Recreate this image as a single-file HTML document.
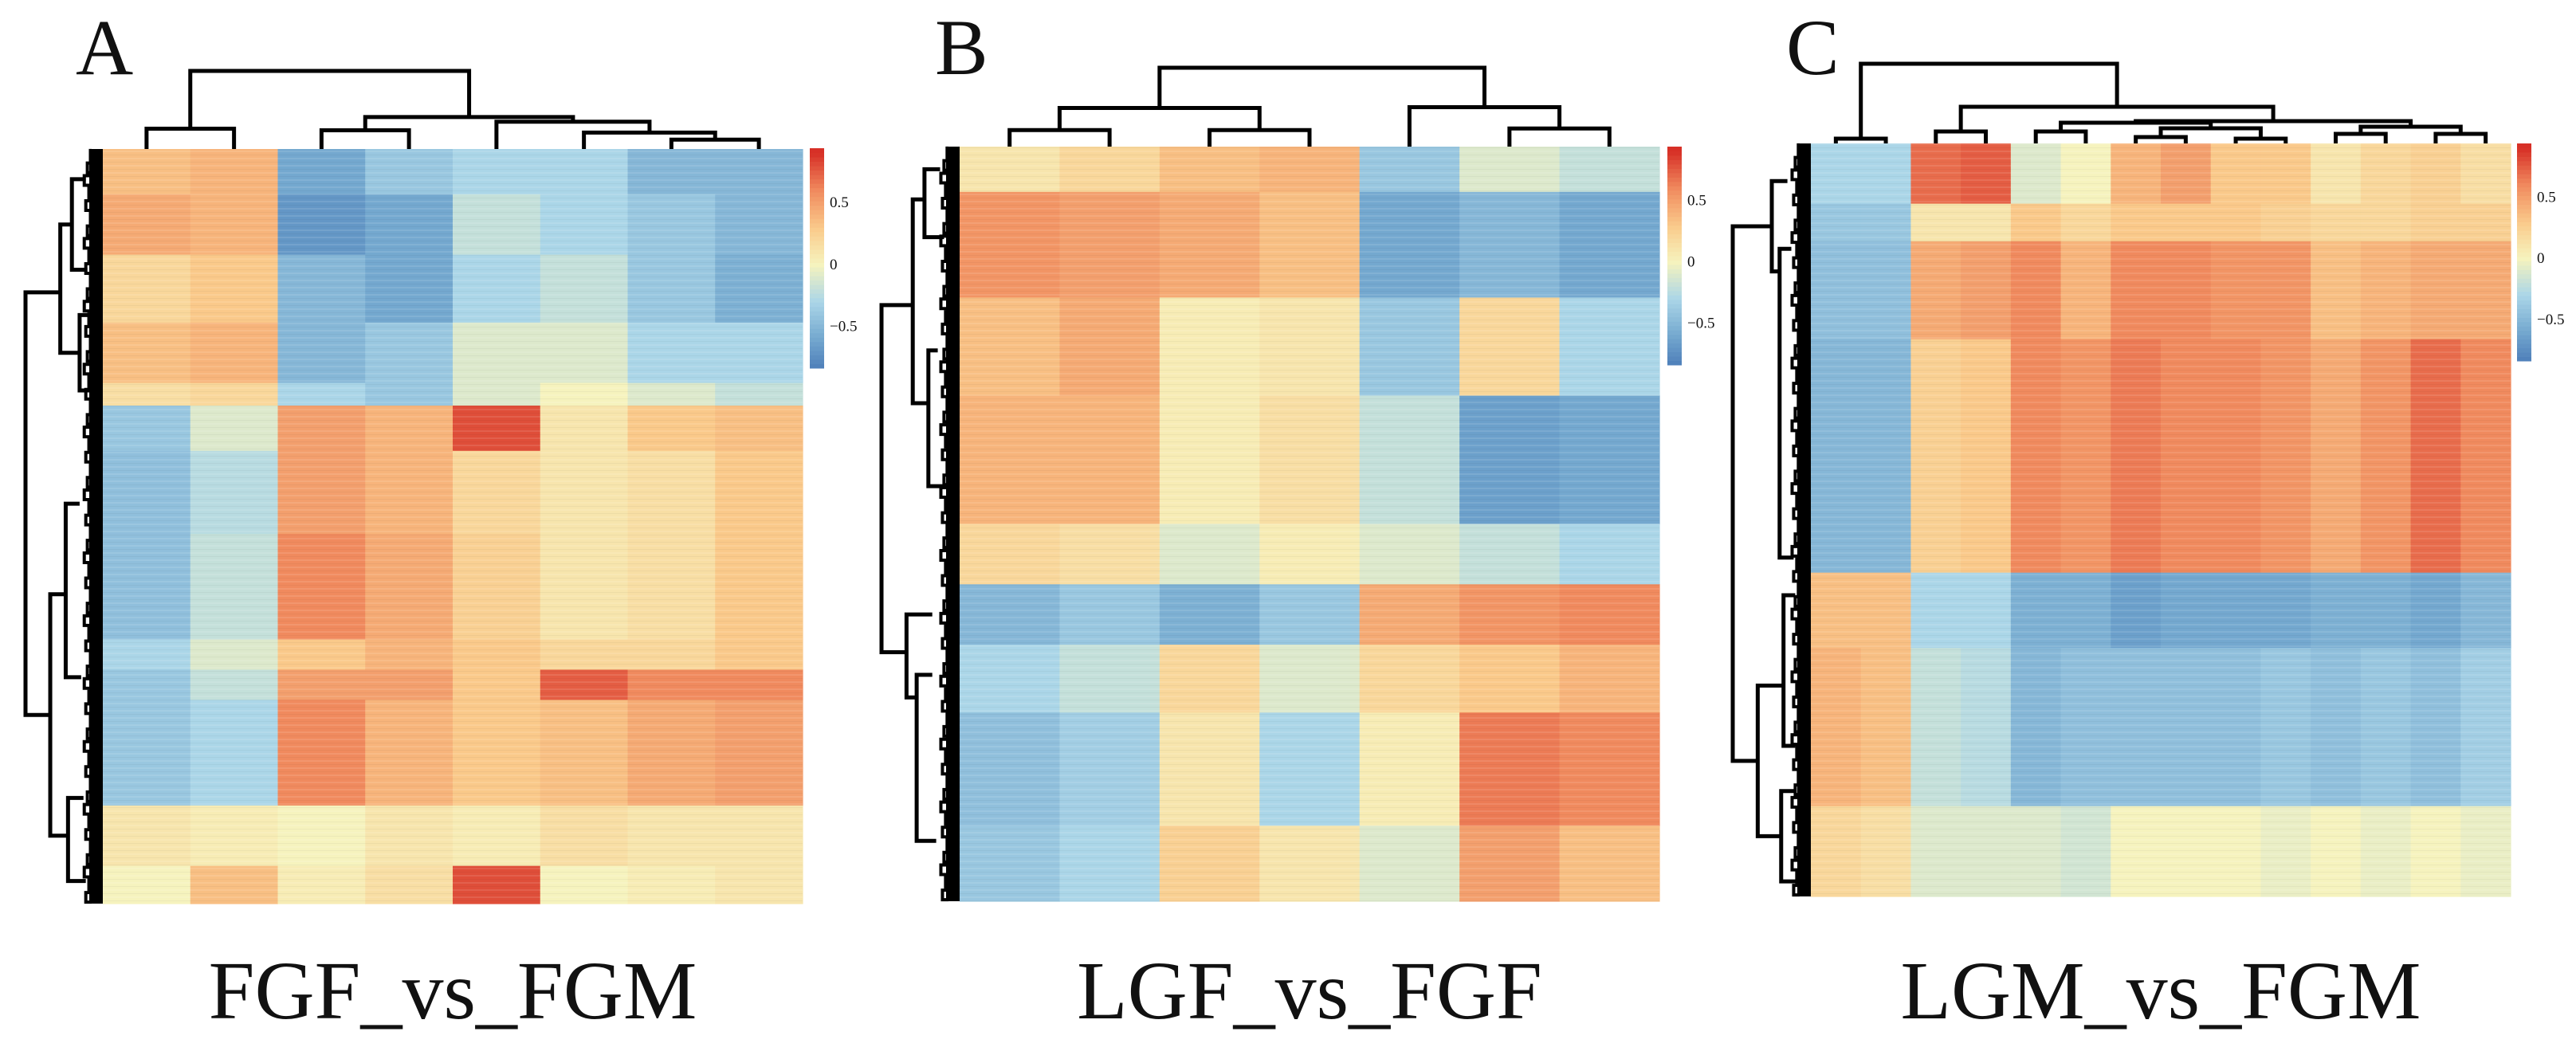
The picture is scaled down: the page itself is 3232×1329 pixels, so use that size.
<!DOCTYPE html>
<html><head><meta charset="utf-8">
<style>
html,body{margin:0;padding:0;background:#fff;}
svg{display:block;}
text{font-family:"Liberation Serif",serif;fill:#111;}
</style></head>
<body>
<svg id="fig" width="3232" height="1329" viewBox="0 0 3232 1329" xmlns="http://www.w3.org/2000/svg">
<defs>
<pattern id="stripes" width="10" height="9" patternUnits="userSpaceOnUse">
<rect x="0" y="0" width="10" height="2" fill="#fff" opacity="0.10"/>
<rect x="0" y="5" width="10" height="1" fill="#000" opacity="0.04"/>
</pattern>
</defs>
</svg>
<script>
// ---------- DATA ----------
const rowBreaksA = [0,.06,.14,.23,.31,.34,.40,.51,.65,.69,.73,.87,.95,1];
const valuesA = [
 [.35,.40,-.60,-.40,-.30,-.30,-.50,-.50],
 [.45,.40,-.70,-.60,-.20,-.30,-.40,-.50],
 [.20,.30,-.50,-.60,-.30,-.20,-.40,-.55],
 [.35,.40,-.50,-.40,-.10,-.10,-.30,-.30],
 [.15,.20,-.30,-.40,-.10,0,-.10,-.20],
 [-.40,-.10,.50,.40,.80,.10,.30,.35],
 [-.45,-.25,.50,.40,.20,.10,.15,.30],
 [-.45,-.20,.60,.45,.25,.10,.15,.30],
 [-.30,-.10,.30,.40,.30,.20,.20,.30],
 [-.40,-.20,.50,.50,.30,.75,.60,.60],
 [-.40,-.30,.60,.40,.30,.35,.45,.50],
 [.10,.05,0,.10,.05,.15,.10,.10],
 [0,.35,.05,.15,.80,0,.05,.10]
];
const rowBreaksB = [0,.06,.20,.33,.50,.58,.66,.75,.90,1];
const valuesB = [
 [.10,.20,.35,.40,-.40,-.10,-.20],
 [.55,.50,.45,.35,-.60,-.50,-.60],
 [.35,.45,.05,.10,-.40,.20,-.30],
 [.40,.40,.05,.15,-.20,-.65,-.60],
 [.20,.15,-.10,.05,-.10,-.20,-.30],
 [-.50,-.40,-.55,-.40,.45,.55,.60],
 [-.30,-.20,.20,-.10,.20,.30,.40],
 [-.45,-.35,.10,-.30,.05,.65,.60],
 [-.40,-.30,.25,.10,-.10,.50,.35]
];
const rowBreaksC = [0,.08,.13,.26,.57,.67,.88,1];
const valuesC = [
 [-.30,-.30,.70,.75,-.10,0,.40,.50,.30,.30,.10,.20,.25,.15],
 [-.40,-.40,.10,.10,.30,.20,.30,.30,.30,.25,.20,.20,.25,.25],
 [-.45,-.45,.45,.50,.60,.40,.60,.60,.55,.55,.35,.40,.45,.45],
 [-.50,-.50,.25,.30,.60,.55,.65,.60,.60,.55,.45,.55,.70,.60],
 [.35,.35,-.30,-.30,-.55,-.55,-.65,-.60,-.60,-.60,-.55,-.55,-.60,-.50],
 [.40,.35,-.20,-.25,-.50,-.45,-.45,-.45,-.45,-.40,-.45,-.40,-.45,-.35],
 [.20,.15,-.10,-.10,-.10,-.15,0,0,0,-.05,0,-.05,0,-.05]
];
const colMergesA = [[0,1,.26],[2,3,.24],[6,7,.12],[5,10,.21],[4,11,.35],[9,12,.41],[8,13,1]];
const colMergesB = [[0,1,.21],[2,3,.21],[7,8,.49],[5,6,.23],[4,10,.50],[9,11,1]];
const colMergesC = [[0,1,.06],[2,3,.15],[4,5,.15],[6,7,.08],[8,9,.06],[10,11,.12],[12,13,.12],
 [17,18,.19],[16,21,.26],[19,20,.21],[22,23,.28],[15,24,.46],[14,25,1]];
const rowBracketsA = [[1,.19,.75,.55,.68],[.55,.10,.27,.40,.30],[.68,.59,.91,.48,.45],[.48,.47,.70,.30,.28],[.45,.86,.97,.25,.22],[.40,.04,.16,.22,.20],[.30,.22,.32,.18,.15]];
const rowBracketsB = [[1,.21,.67,.60,.68],[.60,.07,.34,.45,.40],[.68,.62,.73,.35,.55],[.55,.70,.92,.35,.30],[.45,.03,.12,.25,.20],[.40,.27,.45,.28,.20]];
const rowBracketsC = [[1,.11,.82,.50,.68],[.50,.05,.17,.30,.40],[.40,.14,.55,.25,.22],[.68,.72,.92,.35,.38],[.38,.86,.98,.20,.18],[.35,.60,.80,.20,.20]];
const cbTicks = [0.5, 0, -0.5];
const cbTickLabels = ["0.5","0","\u22120.5"];
const cbRange = [-0.84, 0.94];
const panelLetters = ["A","B","C"];
const panelTitles = ["FGF_vs_FGM","LGF_vs_FGF","LGM_vs_FGM"];

// ---------- LAYOUT ----------
const panels = [
 {x0:129,x1:1007,y0:187,y1:1134,cb:[1016,1034,186,462],rootX:32,topY:89,letterX:95,rb:rowBreaksA,vals:valuesA,cm:colMergesA,rbk:rowBracketsA},
 {x0:1204,x1:2082,y0:184,y1:1131,cb:[2092,2110,184,458],rootX:1106,topY:85,letterX:1173,rb:rowBreaksB,vals:valuesB,cm:colMergesB,rbk:rowBracketsB},
 {x0:2272,x1:3150,y0:180,y1:1125,cb:[3158,3176,180,453],rootX:2174,topY:80,letterX:2241,rb:rowBreaksC,vals:valuesC,cm:colMergesC,rbk:rowBracketsC}
];
const NS="http://www.w3.org/2000/svg";
const svg=document.getElementById('fig');
function mk(tag,attrs,parent){const e=document.createElementNS(NS,tag);for(const k in attrs)e.setAttribute(k,attrs[k]);(parent||svg).appendChild(e);return e;}

const stops=[[-0.9,[69,117,180]],[-0.6,[116,168,207]],[-0.3,[171,214,232]],[0,[246,243,190]],[0.3,[250,201,138]],[0.6,[240,138,94]],[0.9,[215,48,39]]];
function color(v){
 if(v<=stops[0][0])return `rgb(${stops[0][1]})`;
 for(let i=1;i<stops.length;i++){if(v<=stops[i][0]){const a=stops[i-1],b=stops[i];const t=(v-a[0])/(b[0]-a[0]);
  const c=a[1].map((x,j)=>Math.round(x+(b[1][j]-x)*t));return `rgb(${c})`;}}
 return `rgb(${stops[stops.length-1][1]})`;
}

panels.forEach((p,pi)=>{
 const g=mk('g',{});
 
 
 const nCols=p.vals[0].length, cw=(p.x1-p.x0)/nCols, H=p.y1-p.y0;
 const xScale=c=>p.x0+c*cw;
 const yScale=f=>p.y0+f*H;
 const hm=mk('g',{},g);
 
 
 p.vals.forEach((row,ri)=>{
  row.forEach((v,ci)=>{
   const r=mk('rect',{x:xScale(ci),y:yScale(p.rb[ri]),width:cw+0.6,height:yScale(p.rb[ri+1])-yScale(p.rb[ri])+0.6,fill:color(v)},hm);
   
   
  });
 });
 mk('rect',{x:p.x0,y:p.y0,width:p.x1-p.x0,height:H,fill:'url(#stripes)'},hm);
 const dg=mk('g',{stroke:'#000','stroke-width':5,fill:'none'},g);
 
 
 const pos=[],ht=[];
 for(let i=0;i<nCols;i++){pos.push(xScale(i)+cw/2);ht.push(0);}
 const span=p.y0-p.topY;
 const hy=h=>p.y0-h*span;
 p.cm.forEach(m=>{
  const [a,b,h]=m;
  const xa=pos[a],xb=pos[b],y=hy(h);
  mk('path',{d:`M${xa},${hy(ht[a])}V${y}H${xb}V${hy(ht[b])}`},dg);
  pos.push((xa+xb)/2);ht.push(h);
 });
 const rg=mk('g',{stroke:'#000','stroke-width':5,fill:'none'},g);
 
 
 const W=p.x0-p.rootX;
 const dx=d=>p.x0-d*W;
 p.rbk.forEach(b=>{
  const [d,t,bt,dt,db]=b;
  mk('path',{d:`M${dx(dt)},${yScale(t)}H${dx(d)}V${yScale(bt)}H${dx(db)}`},rg);
 });
 mk('rect',{x:p.x0-17,y:p.y0,width:17,height:H,fill:'#000',stroke:'none'},rg);
 for(let i=0;i<60;i++){
  const y=p.y0+ (i+0.5)*H/60;
  const d=0.16+0.08*((i*7)%5)/4;
  mk('path',{d:`M${p.x0-14},${y-6}H${dx(d)}V${y+6}H${p.x0-14}`,'stroke-width':4},rg);
 }
 const [cx0,cx1,cy0,cy1]=p.cb;
 const cbg=mk('g',{},g);
 
 
 const cbY=v=>cy1-(v-cbRange[0])/(cbRange[1]-cbRange[0])*(cy1-cy0);
 const N=50;
 for(let i=0;i<N;i++){
  const v0=cbRange[0]+(cbRange[1]-cbRange[0])*i/N, v1=cbRange[0]+(cbRange[1]-cbRange[0])*(i+1)/N;
  mk('rect',{x:cx0,y:cbY(v1),width:cx1-cx0,height:cbY(v0)-cbY(v1)+0.5,fill:color((v0+v1)/2)},cbg);
 }
 cbTicks.forEach((t,ti)=>{
  const tx=mk('text',{x:cx1+7,y:cbY(t)+6,'font-size':19,fill:'#333'},cbg);
  tx.textContent=cbTickLabels[ti];
  
  
 });
 const L=mk('text',{x:p.letterX,y:93,'font-size':100},g);
 L.textContent=panelLetters[pi];
 
 
 const T=mk('text',{x:(p.x0+p.x1)/2,y:1278,'font-size':104,'text-anchor':'middle'},g);
 T.textContent=panelTitles[pi];
 
 
});
</script>
</body></html>
